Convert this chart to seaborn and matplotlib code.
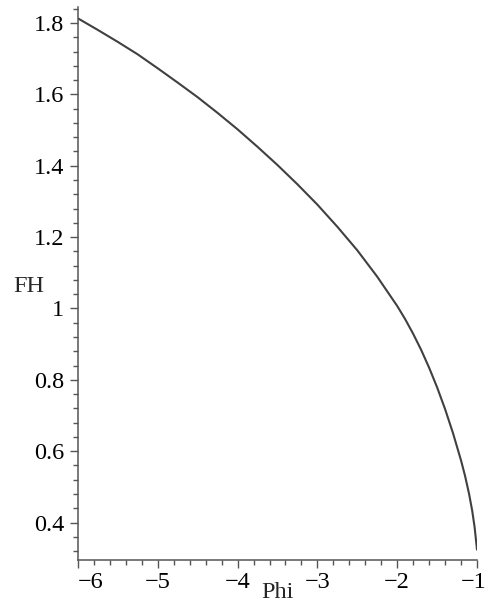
import matplotlib
matplotlib.use("Agg")
import matplotlib.pyplot as plt
from matplotlib.ticker import MultipleLocator
import matplotlib.transforms as mtransforms
from matplotlib import font_manager
import seaborn as sns
import pandas as pd

# Data
phi = [-6.0, -5.75, -5.5, -5.25, -5.0, -4.75, -4.5, -4.25, -4.0, -3.75, -3.5,
       -3.25, -3.0, -2.75, -2.5, -2.25, -2.0, -1.9, -1.8, -1.7, -1.6, -1.5,
       -1.4, -1.3, -1.2, -1.15, -1.1, -1.06, -1.03, -1.0]
fh = [1.813, 1.7805, 1.747, 1.712, 1.673, 1.633, 1.592, 1.548, 1.502, 1.453, 1.402,
      1.348, 1.291, 1.229, 1.163, 1.089, 1.007, 0.970, 0.929, 0.884, 0.834, 0.779,
      0.718, 0.650, 0.574, 0.531, 0.481, 0.433, 0.387, 0.324]
xticks = [-6, -5, -4, -3, -2, -1]
yticks = [0.4, 0.6, 0.8, 1.0, 1.2, 1.4, 1.6, 1.8]
ytick_labels = ["0.4", "0.6", "0.8", "1", "1.2", "1.4", "1.6", "1.8"]

df = pd.DataFrame({"Phi": phi, "FH": fh})

sns.set_style("ticks")

# locate a Times-like serif font file
serif_name = "DejaVu Serif"
for f in font_manager.findSystemFonts():
    base = f.replace("\\", "/").split("/")[-1].lower()
    if base.startswith("liberationserif-regular"):
        font_manager.fontManager.addfont(f)
        serif_name = font_manager.FontProperties(fname=f).get_name()
        break
plt.rcParams["font.family"] = [serif_name, "DejaVu Serif"]
plt.rcParams["axes.unicode_minus"] = True

fig = plt.figure(figsize=(4.87, 6.06), dpi=100)
ax = fig.add_axes([78 / 487, 1 - 560 / 606, (477 - 78) / 487, (560 - 7) / 606])

sns.lineplot(data=df, x="Phi", y="FH", ax=ax, color="#404040", linewidth=1.5)

ax.set_xlim(-6.0, -1.0)
ax.set_ylim(0.295, 1.845)
ax.set_xlabel("")
ax.set_ylabel("")

ax.set_xticks(xticks)
ax.set_xticklabels([f"\u2212{abs(t)}" for t in xticks])
ax.xaxis.set_minor_locator(MultipleLocator(0.2))
ax.set_yticks(yticks)
ax.set_yticklabels(ytick_labels)
ax.yaxis.set_minor_locator(MultipleLocator(0.04))

for s in ["top", "right"]:
    ax.spines[s].set_visible(False)
for s in ["left", "bottom"]:
    ax.spines[s].set_color("#555555")
    ax.spines[s].set_linewidth(1.1)

ax.tick_params(which="major", direction="out", length=6, width=1.0,
               color="#555555", labelsize=17.5, labelcolor="black")
ax.tick_params(axis="y", which="major", pad=4)
ax.tick_params(axis="x", which="major", pad=3)
ax.tick_params(which="minor", direction="out", length=3.5, width=1.0, color="#555555")

# first x label shifted right of the axis, last one nudged left (as in the reference)
lbls = ax.get_xticklabels()
lbls[0].set_horizontalalignment("left")
lbls[-1].set_transform(lbls[-1].get_transform() +
                       mtransforms.ScaledTranslation(-3 / 100, 0, fig.dpi_scale_trans))

fig.text(29 / 487, 1 - 287 / 606, "FH", ha="center", va="center", fontsize=17.5)
fig.text(277 / 487, 1 - 593 / 606, "Phi", ha="center", va="center", fontsize=17.5)

fig.savefig("out.png", dpi=100, facecolor="white")
